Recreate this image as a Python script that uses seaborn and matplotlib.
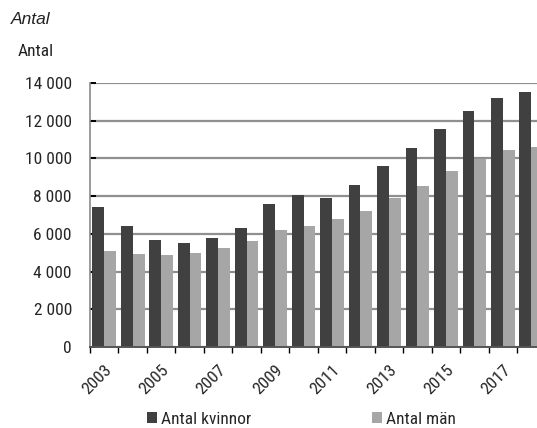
import matplotlib
matplotlib.use("Agg")
import matplotlib.pyplot as plt
from matplotlib.patches import Patch
from matplotlib.ticker import FuncFormatter, FixedLocator
from matplotlib import font_manager
import pandas as pd
import seaborn as sns

years = list(range(2003, 2019))
kvinnor = [7450, 6400, 5700, 5500, 5780, 6300, 7580, 8060, 7900, 8590,
           9600, 10550, 11560, 12510, 13200, 13520]
man = [5080, 4930, 4880, 4980, 5250, 5620, 6200, 6420, 6790, 7210,
       7900, 8540, 9330, 9970, 10450, 10600]
series_names = ["Antal kvinnor", "Antal män"]
series_colors = ["#404040", "#a6a6a6"]

df = pd.DataFrame({
    "År": [str(y) for y in years] * 2,
    "Antal": kvinnor + man,
    "Serie": [series_names[0]] * len(years) + [series_names[1]] * len(years),
})

sns.set_theme(style="white")
installed = {f.name for f in font_manager.fontManager.ttflist}
narrow = [f for f in ["Roboto Condensed", "Liberation Sans Narrow", "Roboto"] if f in installed]
narrow = narrow[:1] + ["DejaVu Sans"]
plt.rcParams["font.family"] = narrow

fig = plt.figure(figsize=(5.37, 4.28), dpi=100)
ax = fig.add_axes([90 / 537, (428 - 347) / 428, 1 - 90 / 537, (347 - 83) / 428])

sns.barplot(data=df, x="År", y="Antal", hue="Serie", order=[str(y) for y in years],
            hue_order=series_names, palette=series_colors, width=0.83,
            saturation=1, edgecolor="none", linewidth=0, legend=False, ax=ax)

ax.set_ylim(0, 14000)
ax.set_xlim(-0.5, 15.2)
ax.set_yticks(range(0, 14001, 2000))
ax.yaxis.set_major_formatter(FuncFormatter(lambda v, p: f"{int(v):,}".replace(",", " ")))
ax.grid(axis="y", color="#8f8f8f", linewidth=1.6)
ax.set_axisbelow(True)
for s in ["top", "right"]:
    ax.spines[s].set_visible(False)
ax.spines["left"].set_color("#8a8a8a")
ax.spines["left"].set_linewidth(1.2)
ax.spines["bottom"].set_color("#555555")
ax.spines["bottom"].set_linewidth(1.4)

ax.tick_params(axis="y", which="major", direction="in", length=4.5, width=1.4,
               color="black", pad=13, labelsize=12.5, left=True)

# category boundary tick marks on the x axis, labels every other year
ax.xaxis.set_minor_locator(FixedLocator([i - 0.5 for i in range(len(years) + 1)]))
ax.tick_params(axis="x", which="minor", direction="out", length=4.5, width=1.0,
               color="black", bottom=True)
label_pos = [i for i, y in enumerate(years) if (y - 2003) % 2 == 0]
ax.set_xticks(label_pos)
ax.set_xticklabels([str(years[i]) for i in label_pos])
ax.tick_params(axis="x", which="major", length=0, pad=11, labelsize=12.5)
for lab in ax.get_xticklabels():
    lab.set_rotation(45)
    lab.set_ha("right")
    lab.set_va("top")
    lab.set_rotation_mode("anchor")

ax.set_xlabel("")
ax.set_ylabel("")

fig.text(11 / 537, 1 - 19 / 428, "Antal", fontsize=12.5, style="italic",
         family=["Liberation Sans", "DejaVu Sans"], va="center", ha="left", color="#222222")
fig.text(18 / 537, 1 - 51 / 428, "Antal", fontsize=12.5, va="center", ha="left",
         color="#222222")

for name, color, xpos in zip(series_names, series_colors, [147, 372]):
    fig.legend(handles=[Patch(facecolor=color, edgecolor="none", label=name)],
               loc="center left", bbox_to_anchor=(xpos / 537, 1 - 419 / 428),
               frameon=False, fontsize=12.5, handlelength=0.6, handleheight=0.6,
               handletextpad=0.2, borderpad=0, borderaxespad=0)

fig.savefig("out.png", dpi=100)
